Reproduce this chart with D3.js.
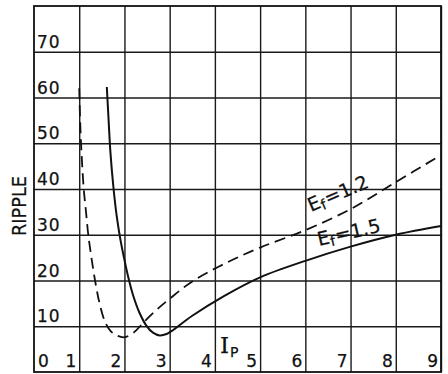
<!DOCTYPE html>
<html>
<head>
<meta charset="utf-8">
<script src="https://cdn.jsdelivr.net/npm/d3@7"></script>
<style>
  html, body { margin: 0; padding: 0; background: #fff; }
  svg { display: block; }
  text { font-family: "DejaVu Sans", sans-serif; fill: #111; stroke: #111; stroke-width: 0.25; }
</style>
</head>
<body>
<svg id="chart" width="448" height="374"></svg>
<script>
// Plate current I_P (x) against ripple (y) for two filament voltages
const xTicks = [0, 1, 2, 3, 4, 5, 6, 7, 8, 9];
const yTicks = [10, 20, 30, 40, 50, 60, 70];
const yTickLabels = ["10", "20", "30", "40", "50", "60", "70"];
const xTickLabels = ["0", "1", "2", "3", "4", "5", "6", "7", "8", "9"];

// E_f = 1.2 (dashed)
const ef12X = [1.0, 1.02, 1.05, 1.1, 1.15, 1.2, 1.27, 1.35, 1.45, 1.57, 1.7, 1.85, 2.0, 2.2, 2.42, 2.7, 3.0, 3.5, 4.2, 5.0, 6.0, 7.0, 8.0, 8.96];
const ef12Y = [62, 55, 48, 40, 35, 30, 25, 20, 15, 11, 8.9, 7.9, 7.6, 8.6, 10.8, 13.5, 16.0, 19.8, 23.6, 27.2, 31.0, 35.6, 41.5, 47.2];

// E_f = 1.5 (solid)
const ef15X = [1.61, 1.65, 1.69, 1.76, 1.83, 1.91, 2.0, 2.09, 2.2, 2.33, 2.48, 2.63, 2.78, 2.93, 3.05, 3.5, 4.2, 5.0, 6.0, 7.0, 8.0, 9.0];
const ef15Y = [62.3, 55, 48, 40, 34, 29, 24.5, 20.5, 16.5, 13, 10.2, 8.6, 8.0, 8.3, 9.0, 12.3, 16.6, 20.7, 24.3, 27.4, 30.0, 31.9];

const svg = d3.select("#chart");
const x = d3.scaleLinear().domain([0, 9]).range([34, 441]);
const y = d3.scaleLinear().domain([0, 80]).range([372, 6]);

// Grid: vertical rulings from the bottom axis, horizontal from the left axis
const gx = svg.append("g")
  .attr("transform", `translate(0,${y(0)})`)
  .call(d3.axisBottom(x).tickValues(xTicks.slice(1)).tickSize(-(y(0) - y(80))).tickFormat(""));
const gy = svg.append("g")
  .attr("transform", `translate(${x(0)},0)`)
  .call(d3.axisLeft(y).tickValues(yTicks).tickSize(-(x(9) - x(0))).tickFormat(""));
[gx, gy].forEach(g => {
  g.select(".domain").remove();
  g.selectAll(".tick line").attr("stroke", "#1a1a1a").attr("stroke-width", 1.4);
});

// Frame
svg.append("rect")
  .attr("x", x(0)).attr("y", y(80))
  .attr("width", x(9) - x(0)).attr("height", y(0) - y(80))
  .attr("fill", "none").attr("stroke", "#111").attr("stroke-width", 1.8);

// Y tick labels sit just above each ruling, inside the frame
svg.append("g").selectAll("text")
  .data(yTicks)
  .join("text")
  .attr("x", x(0) + 3)
  .attr("y", d => y(d) - 4)
  .attr("font-size", 17)
  .attr("letter-spacing", 1)
  .text((d, i) => yTickLabels[i]);

// X tick labels sit just left of each ruling, along the bottom
svg.append("g").selectAll("text")
  .data(xTicks)
  .join("text")
  .attr("x", d => d === 0 ? x(0) + 4 : x(d) - 3)
  .attr("y", y(0) - 5)
  .attr("text-anchor", d => d === 0 ? "start" : "end")
  .attr("font-size", 17)
  .text((d, i) => xTickLabels[i]);

// Axis titles
svg.append("text")
  .attr("transform", "translate(26,206) rotate(-90)")
  .attr("text-anchor", "middle")
  .attr("font-size", 20)
  .attr("textLength", 60)
  .attr("lengthAdjust", "spacingAndGlyphs")
  .text("RIPPLE");

const ip = svg.append("text")
  .attr("x", 220).attr("y", 353)
  .attr("font-size", 23);
ip.append("tspan").attr("font-family", "DejaVu Serif").text("I");
ip.append("tspan").attr("font-size", 14).attr("dx", 1).attr("dy", 4).text("P");

// Curves
const line = d3.line()
  .x(d => x(d[0]))
  .y(d => y(d[1]))
  .curve(d3.curveCatmullRom.alpha(0.5));

svg.append("path")
  .datum(d3.zip(ef12X, ef12Y))
  .attr("d", line)
  .attr("fill", "none")
  .attr("stroke", "#111")
  .attr("stroke-width", 1.8)
  .attr("stroke-dasharray", "11,6");

svg.append("path")
  .datum(d3.zip(ef15X, ef15Y))
  .attr("d", line)
  .attr("fill", "none")
  .attr("stroke", "#111")
  .attr("stroke-width", 2);

// Curve labels, rotated to run along each curve
function curveLabel(px, py, angle, value) {
  const t = svg.append("text")
    .attr("transform", `translate(${px},${py}) rotate(${angle})`)
    .attr("font-size", 19);
  t.append("tspan").text("E");
  t.append("tspan").attr("font-size", 14).attr("dy", 3).text("f");
  t.append("tspan").attr("dy", -3).attr("dx", 1).text("=" + value);
}
curveLabel(311, 212, -23, "1.2");
curveLabel(319, 246, -13, "1.5");
</script>
</body>
</html>
